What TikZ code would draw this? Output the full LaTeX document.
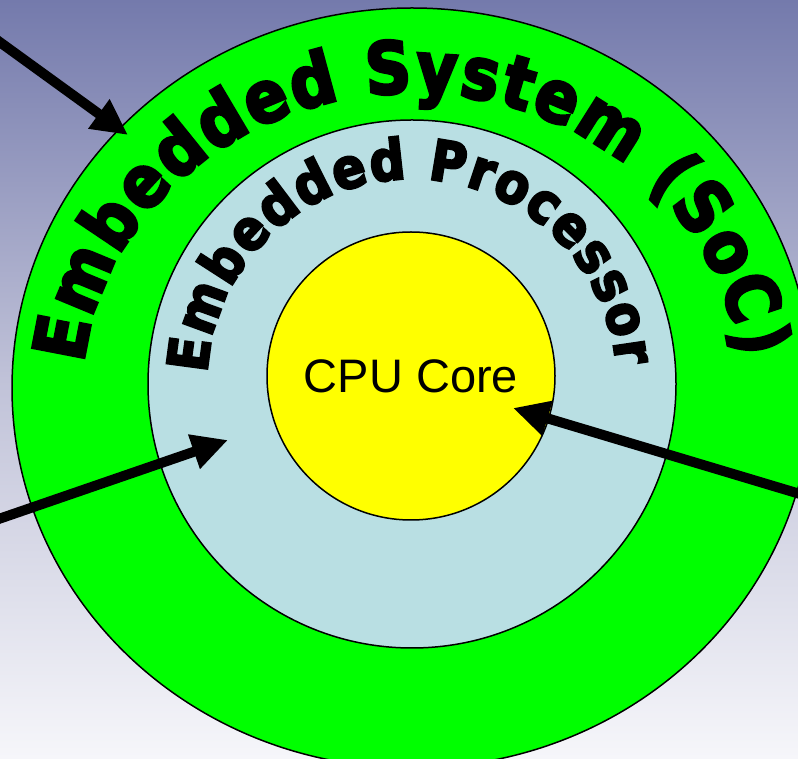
\documentclass[tikz,border=0pt]{standalone}
\usepackage{fontspec}
\usetikzlibrary{arrows.meta,decorations.text,shapes.geometric}
\newfontfamily\corefont{Liberation Sans}
\newfontfamily\ringfont{DejaVu Sans Bold}[FakeBold=4, FakeStretch=0.88]
\definecolor{socgreen}{RGB}{0,255,0}
\definecolor{procblue}{RGB}{185,223,227}
\definecolor{coreyellow}{RGB}{255,255,0}
\definecolor{bgtop}{RGB}{116,122,172}
\definecolor{bgmid}{RGB}{192,194,216}
\definecolor{bgbot}{RGB}{246,246,250}

\begin{document}
\begin{tikzpicture}[x=1pt, y=1pt,
    ring/.style={circle, draw=black, line width=1.5pt, inner sep=0pt},
    pointer/.style={line width=10pt, -{Triangle[length=36pt, width=34pt]}},
    arctext/.style={decorate, decoration={text along path, text align=fit to path}}]
  \useasboundingbox (0,0) rectangle (798,758);
  \clip (0,0) rectangle (798,758);
  \shade[top color=bgtop, bottom color=bgbot, middle color=bgmid] (0,0) rectangle (798,758);

  \node[ring, ellipse, fill=socgreen, minimum width=800pt, minimum height=760pt] (soc) at (412,370) {};
  \node[ring, fill=procblue, minimum size=528pt] (proc) at (412,374) {};
  \node[ring, fill=coreyellow, minimum size=288pt,
    font=\corefont\fontsize{47}{50}\selectfont] (core) at (411,382) {CPU Core};

  % labels bent round the rings
  \path[arctext, decoration={text={|\ringfont\fontsize{72}{72}\selectfont|Embedded System (SoC)}}]
    (412,363) ++(174:330pt and 302pt) arc[start angle=174, end angle=7, x radius=330pt, y radius=302pt];
  \path[arctext, decoration={text={|\ringfont\fontsize{56}{56}\selectfont|Embedded Processor}}]
    (412,374) ++(177:205pt) arc[start angle=177, end angle=5, radius=205pt];

  \coordinate (a1) at (-10,723); \coordinate (t1) at (128,623);
  \coordinate (a2) at (-10,236); \coordinate (t2) at (228,318);
  \coordinate (a3) at (810,261); \coordinate (t3) at (513,350);
  \draw[pointer] (a1) -- (t1);
  \draw[pointer] (a2) -- (t2);
  \draw[pointer] (a3) -- (t3);
\end{tikzpicture}
\end{document}
